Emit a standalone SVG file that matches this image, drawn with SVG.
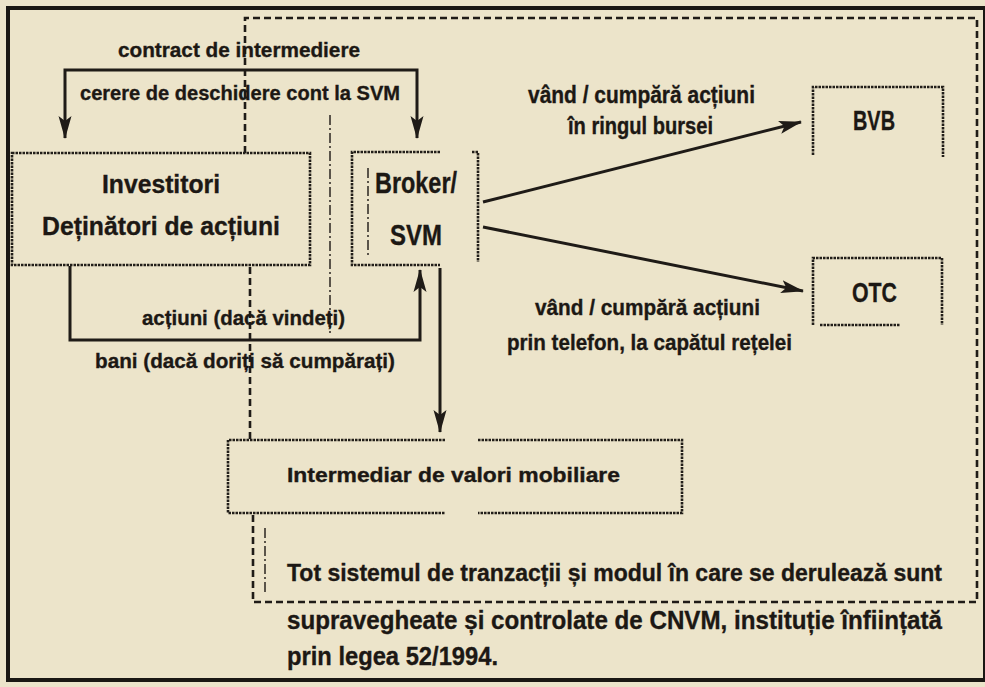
<svg xmlns="http://www.w3.org/2000/svg" width="985" height="687" viewBox="0 0 985 687">
  <defs>
    <marker id="ah" markerUnits="userSpaceOnUse" markerWidth="24" markerHeight="16" refX="22" refY="8" orient="auto-start-reverse">
      <path d="M0,1.5 L23,8 L0,14.5 L5,8 z" fill="#1f1b17"/>
    </marker>
    <style>
      .txt { font-family: "Liberation Sans", Arial, sans-serif; font-weight: bold; fill: #1c1814; stroke: #1c1814; stroke-width: 0.35; }
      .box { fill: none; stroke: #221e19; stroke-width: 2.6; stroke-dasharray: 2.5 1; }
      .conn { fill: none; stroke: #1f1b17; stroke-width: 3; }
      .dash { fill: none; stroke: #1f1b17; stroke-width: 2.6; stroke-dasharray: 7 4; }
      .thin { fill: none; stroke: #2a2520; stroke-width: 1.5; stroke-dasharray: 10 3 2 3; }
      .frame { fill: none; stroke: #1a1713; stroke-width: 4; }
    </style>
  </defs>

  <rect x="0" y="0" width="985" height="687" fill="#ece4ca"/>

  <!-- outer frame -->
  <rect class="frame" x="8" y="8" width="977" height="672"/>

  <!-- supervised (CNVM) region -->
  <g id="cnvm-region">
    <path class="dash" d="M245,153 V18 H977 V602 H253 V515"/>
    <path class="dash" d="M250,267 V440"/>
    <path class="thin" d="M265,528 V592"/>
  </g>

  <g id="connectors">
    <path class="conn" d="M65,138 V70 H417 V138" marker-start="url(#ah)" marker-end="url(#ah)"/>
    <path class="conn" d="M70,266 V340 H420 V270" marker-end="url(#ah)"/>
    <path class="conn" d="M440,268 V432" marker-end="url(#ah)"/>
    <path class="conn" d="M483,202 L801,122" marker-end="url(#ah)"/>
    <path class="conn" d="M483,227 L803,291" marker-end="url(#ah)"/>
    <path class="thin" d="M330,115 V333"/>
    <path class="thin" d="M368,168 V258"/>
  </g>

  <g id="labels">
    <text class="txt" x="118" y="57" font-size="21" textLength="242" lengthAdjust="spacingAndGlyphs">contract de intermediere</text>
    <text class="txt" x="80" y="100" font-size="21" textLength="320" lengthAdjust="spacingAndGlyphs">cerere de deschidere cont la SVM</text>
    <text class="txt" x="142" y="325" font-size="21" textLength="203" lengthAdjust="spacingAndGlyphs">acțiuni (dacă vindeți)</text>
    <text class="txt" x="95" y="368" font-size="21" textLength="300" lengthAdjust="spacingAndGlyphs">bani (dacă doriți să cumpărați)</text>
    <text class="txt" x="528" y="103" font-size="23" textLength="227" lengthAdjust="spacingAndGlyphs">vând / cumpără acțiuni</text>
    <text class="txt" x="568" y="134" font-size="23" textLength="145" lengthAdjust="spacingAndGlyphs">în ringul bursei</text>
    <text class="txt" x="535" y="315" font-size="22" textLength="225" lengthAdjust="spacingAndGlyphs">vând / cumpără acțiuni</text>
    <text class="txt" x="507" y="350" font-size="22" textLength="285" lengthAdjust="spacingAndGlyphs">prin telefon, la capătul rețelei</text>
  </g>

  <g id="investitori">
    <rect class="box" x="12" y="153" width="298" height="112"/>
    <text class="txt" x="102" y="193" font-size="25" textLength="118" lengthAdjust="spacingAndGlyphs">Investitori</text>
    <text class="txt" x="42" y="235" font-size="26" textLength="238" lengthAdjust="spacingAndGlyphs">Deținători de acțiuni</text>
  </g>

  <g id="broker">
    <path class="box" d="M440,152 H352 V265 H440 M472,152 H478 V262"/>
    <text class="txt" x="375" y="193" font-size="29" textLength="82" lengthAdjust="spacingAndGlyphs">Broker/</text>
    <text class="txt" x="390" y="245" font-size="29" textLength="52" lengthAdjust="spacingAndGlyphs">SVM</text>
  </g>

  <g id="bvb">
    <path class="box" d="M813,155 V87 H943 V157"/>
    <text class="txt" x="853" y="130" font-size="28" textLength="42" lengthAdjust="spacingAndGlyphs">BVB</text>
  </g>

  <g id="otc">
    <path class="box" d="M813,325 V258 H942 V325 M820,325 H900"/>
    <text class="txt" x="852" y="302" font-size="28" textLength="45" lengthAdjust="spacingAndGlyphs">OTC</text>
  </g>

  <g id="intermediar">
    <path class="box" d="M445,440 H228 V513 H445 M478,440 H682 V513 H478"/>
    <text class="txt" x="287" y="482" font-size="20" textLength="333" lengthAdjust="spacingAndGlyphs">Intermediar de valori mobiliare</text>
  </g>

  <g id="note">
    <text class="txt" x="287" y="581" font-size="24" textLength="655" lengthAdjust="spacingAndGlyphs">Tot sistemul de tranzacții și modul în care se derulează sunt</text>
    <text class="txt" x="287" y="629" font-size="25" textLength="655" lengthAdjust="spacingAndGlyphs">supravegheate și controlate de CNVM, instituție înființată</text>
    <text class="txt" x="287" y="665" font-size="25" textLength="211" lengthAdjust="spacingAndGlyphs">prin legea 52/1994.</text>
  </g>
</svg>
